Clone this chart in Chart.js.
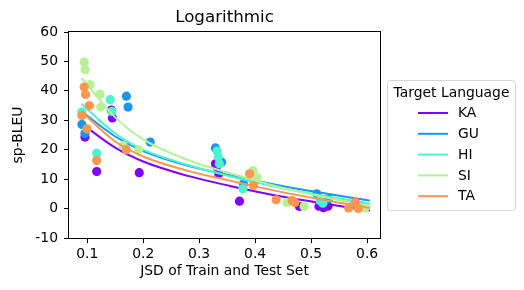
<!DOCTYPE html>
<html>
<head>
<meta charset="utf-8">
<script src="https://cdn.jsdelivr.net/npm/chart.js@4"></script>
<style>
  html, body { margin: 0; padding: 0; background: #ffffff; }
  canvas { display: block; }
</style>
</head>
<body>
<canvas id="c" width="524" height="290"></canvas>
<script>
// ---- data ----
const languages = ['KA', 'GU', 'HI', 'SI', 'TA'];
const colors = ['#8000ff', '#1996f3', '#4df3ce', '#b3f396', '#ff964f'];

const kaX = [0.096, 0.117, 0.143, 0.145, 0.193, 0.329, 0.331, 0.335, 0.372, 0.479, 0.514, 0.530, 0.522];
const kaY = [24.3, 12.6, 33.5, 30.8, 12.2, 15.2, 14.3, 11.8, 2.5, 0.7, 0.8, 0.8, 0.3];

const guX = [0.0905, 0.096, 0.170, 0.173, 0.2125, 0.329, 0.340, 0.379, 0.510, 0.531, 0.576];
const guY = [28.6, 25.5, 38.2, 34.5, 22.6, 20.6, 15.8, 8.4, 5.0, 3.3, 1.6];

const hiX = [0.0905, 0.117, 0.141, 0.144, 0.332, 0.334, 0.336, 0.378, 0.516, 0.521, 0.590];
const hiY = [32.8, 18.8, 37.0, 33.0, 19.5, 17.5, 15.2, 6.7, 2.7, 1.8, 1.0];

const siX = [0.0946, 0.0964, 0.105, 0.123, 0.124, 0.164, 0.192, 0.396, 0.403, 0.457, 0.4875, 0.596];
const siY = [49.8, 47.2, 42.1, 38.9, 34.5, 21.4, 20.0, 12.9, 10.6, 2.1, 0.7, 0.2];

const taX = [0.0946, 0.097, 0.104, 0.0905, 0.0995, 0.117, 0.170, 0.390, 0.397, 0.4375, 0.466, 0.471, 0.567, 0.579, 0.584];
const taY = [41.3, 38.8, 35.0, 31.6, 27.1, 16.3, 20.0, 11.8, 7.8, 3.0, 2.7, 2.1, 0.2, 2.1, 0.0];

// fitted logarithmic curves
const fitX = [0.09, 0.15, 0.20, 0.28, 0.355, 0.45, 0.605];
const kaFit = [28.9, 20.7, 16.0, 11.1, 7.7, 4.0, -0.7];
const guFit = [33.0, 24.5, 19.5, 14.5, 11.3, 7.6, 2.7];
const hiFit = [35.5, 25.5, 20.0, 14.8, 11.0, 6.9, 1.6];
const siFit = [44.3, 31.0, 23.5, 16.5, 12.0, 7.0, 0.7];
const taFit = [32.8, 22.8, 17.7, 12.8, 9.5, 5.5, 0.2];

const xTicks = [0.1, 0.2, 0.3, 0.4, 0.5, 0.6];
const yTicks = [-10, 0, 10, 20, 30, 40, 50, 60];

const titleText = 'Logarithmic';
const xLabel = 'JSD of Train and Test Set';
const yLabel = 'sp-BLEU';
const legendTitle = 'Target Language';

// ---- build ----
const FONT = "'DejaVu Sans', sans-serif";
const pointsX = [kaX, guX, hiX, siX, taX];
const pointsY = [kaY, guY, hiY, siY, taY];
const fits = [kaFit, guFit, hiFit, siFit, taFit];

const datasets = [];
let ord = 100;
languages.forEach((lang, i) => {
  datasets.push({
    label: lang + ' points',
    data: pointsX[i].map((x, j) => ({x: x, y: pointsY[i][j]})),
    backgroundColor: colors[i],
    borderColor: colors[i],
    borderWidth: 0,
    pointRadius: 4.6,
    showLine: false,
    order: ord--
  });
  datasets.push({
    label: lang,
    isFit: true,
    data: fitX.map((x, j) => ({x: x, y: fits[i][j]})),
    borderColor: colors[i],
    backgroundColor: colors[i],
    borderWidth: 2,
    pointRadius: 0,
    showLine: true,
    cubicInterpolationMode: 'monotone',
    order: ord--
  });
});

const decor = {
  id: 'decor',
  afterDraw(chart) {
    const ctx = chart.ctx;
    const a = chart.chartArea;
    ctx.save();
    // frame
    ctx.strokeStyle = '#000';
    ctx.lineWidth = 1;
    ctx.strokeRect(a.left - 0.5, a.top - 0.5, a.right - a.left + 1, a.bottom - a.top + 1);
    // title
    ctx.fillStyle = '#000';
    ctx.font = '16.7px ' + FONT;
    ctx.textAlign = 'center';
    ctx.textBaseline = 'middle';
    ctx.fillText(titleText, (a.left + a.right) / 2, 18);
    // legend
    const bx = 387.5, by = 80.5, bw = 128, bh = 130, r = 3;
    ctx.beginPath();
    ctx.moveTo(bx + r, by);
    ctx.lineTo(bx + bw - r, by);
    ctx.quadraticCurveTo(bx + bw, by, bx + bw, by + r);
    ctx.lineTo(bx + bw, by + bh - r);
    ctx.quadraticCurveTo(bx + bw, by + bh, bx + bw - r, by + bh);
    ctx.lineTo(bx + r, by + bh);
    ctx.quadraticCurveTo(bx, by + bh, bx, by + bh - r);
    ctx.lineTo(bx, by + r);
    ctx.quadraticCurveTo(bx, by, bx + r, by);
    ctx.closePath();
    ctx.fillStyle = 'rgba(255,255,255,0.8)';
    ctx.fill();
    ctx.strokeStyle = '#d5d5d5';
    ctx.lineWidth = 1;
    ctx.stroke();
    ctx.fillStyle = '#000';
    ctx.font = '13.9px ' + FONT;
    ctx.textAlign = 'center';
    ctx.fillText(legendTitle, bx + bw / 2, 93.5);
    ctx.textAlign = 'left';
    const fitSets = chart.data.datasets.filter(d => d.isFit);
    fitSets.forEach((d, i) => {
      const y = 113 + i * 20.8;
      ctx.strokeStyle = d.borderColor;
      ctx.lineWidth = 2;
      ctx.beginPath();
      ctx.moveTo(418, y);
      ctx.lineTo(448, y);
      ctx.stroke();
      ctx.fillStyle = '#000';
      ctx.fillText(d.label, 458, y + 0.5);
    });
    ctx.restore();
  }
};

new Chart(document.getElementById('c'), {
  type: 'scatter',
  data: { datasets: datasets },
  options: {
    responsive: false,
    animation: false,
    devicePixelRatio: 1,
    layout: { padding: { top: 32, right: 144, left: 0, bottom: 0 } },
    plugins: {
      legend: { display: false },
      title: { display: false },
      tooltip: { enabled: false }
    },
    scales: {
      x: {
        type: 'linear',
        min: 0.0675,
        max: 0.623,
        afterFit(s) { s.height = 52; },
        afterBuildTicks(s) { s.ticks = xTicks.map(v => ({value: v})); },
        ticks: {
          color: '#000',
          font: { family: FONT, size: 13.9 },
          padding: 3,
          maxRotation: 0,
          autoSkip: false,
          callback: v => v.toFixed(1)
        },
        grid: { drawOnChartArea: false, drawTicks: true, tickLength: 5, tickColor: '#000', tickWidth: 1 },
        border: { display: false },
        title: { display: true, text: xLabel, color: '#000', font: { family: FONT, size: 13.9 }, padding: { top: 0, bottom: 10 } }
      },
      y: {
        type: 'linear',
        min: -10,
        max: 60,
        afterFit(s) { s.width = 69; },
        afterBuildTicks(s) { s.ticks = yTicks.map(v => ({value: v})); },
        ticks: {
          color: '#000',
          font: { family: FONT, size: 13.9 },
          padding: 6,
          autoSkip: false,
          callback: v => String(v)
        },
        grid: { drawOnChartArea: false, drawTicks: true, tickLength: 5, tickColor: '#000', tickWidth: 1 },
        border: { display: false },
        title: { display: true, text: yLabel, color: '#000', font: { family: FONT, size: 13.9 }, padding: { top: 10, bottom: 0 } }
      }
    }
  },
  plugins: [decor]
});
</script>
</body>
</html>
